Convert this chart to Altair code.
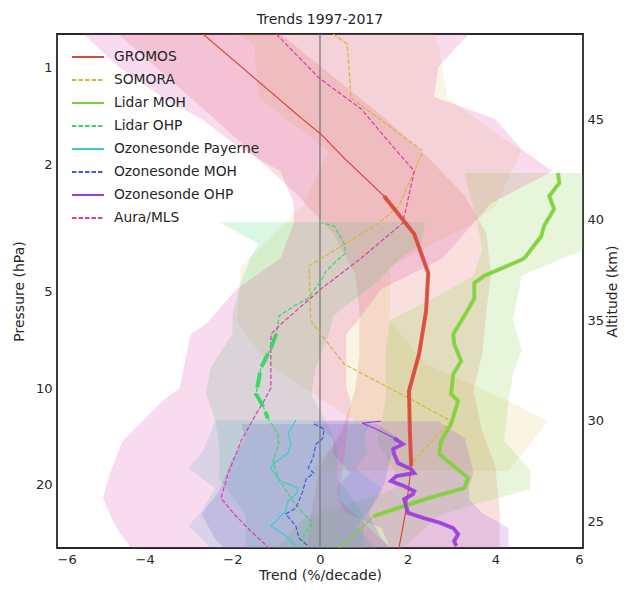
import altair as alt
import pandas as pd

# ---------------- data ----------------
SERIES = ["GROMOS", "SOMORA", "Lidar MOH", "Lidar OHP", "Ozonesonde Payerne",
          "Ozonesonde MOH", "Ozonesonde OHP", "Aura/MLS"]
COLORS = ["#d9483b", "#d9b43c", "#7fd13b", "#3dd66b", "#3ccbd2",
          "#3f5fdb", "#9a3fdf", "#d93fa9"]
DASHED = [False, True, False, True, False, True, False, True]

X_TICKS = [-6, -4, -2, 0, 2, 4, 6]
ALT_TICKS = [25, 30, 35, 40, 45]
PRESSURE_TICKS = [1, 2, 5, 10, 20]

# trend profiles: altitude (km) and trend (%/decade)
gromos_z = [49.23, 45.05, 44.25, 43.06, 41.17, 39.28, 37.34, 35.45, 33.31, 31.47, 29.48, 27.74, 25.50, 23.66]
gromos_t = [-2.67, -0.43, 0.02, 0.55, 1.46, 2.15, 2.47, 2.42, 2.26, 2.03, 2.05, 2.08, 1.96, 1.80]

somora_z = [49.23, 48.73, 46.04, 43.41, 40.67, 39.83, 37.69, 34.95, 32.81, 30.97, 29.97, 27.49]
somora_t = [0.30, 0.62, 0.71, 2.35, 1.80, 1.35, -0.25, -0.21, 0.55, 2.15, 2.99, 1.92]

lidar_moh_z = [42.31, 41.82, 41.17, 40.52, 39.68, 39.18, 38.18, 38.03, 37.19, 36.84, 36.09, 35.60, 34.30, 33.81,
               32.96, 32.31, 31.32, 30.97, 29.83, 28.98, 28.33, 27.14, 26.64, 26.14, 25.75, 25.25, 24.85, 23.66]
lidar_moh_t = [5.43, 5.46, 5.23, 5.34, 5.11, 5.05, 4.70, 4.63, 3.74, 3.52, 3.52, 3.40, 3.04, 3.06,
               3.22, 3.04, 2.99, 3.15, 2.99, 2.76, 2.72, 3.38, 3.29, 2.47, 1.92, 1.23, 1.05, 0.43]

lidar_ohp_z = [39.87, 39.68, 38.83, 38.33, 37.93, 37.44, 36.94, 36.09, 35.70, 35.20, 34.70, 34.30, 33.61, 32.61,
               32.11, 31.32, 30.72, 30.12, 29.33, 28.83, 27.98, 27.14, 26.14, 25.35, 24.90, 24.35, 23.76]
lidar_ohp_t = [-0.02, 0.32, 0.55, 0.59, 0.37, 0.14, 0.02, -0.27, -0.59, -0.94, -0.96, -1.00, -1.12, -1.35,
               -1.39, -1.46, -1.30, -1.19, -0.96, -0.94, -1.07, -0.96, -0.66, -0.37, -0.16, -0.37, -0.37]

payerne_z = [30.02, 29.33, 28.83, 28.38, 27.83, 27.64, 27.24, 26.99, 26.64, 26.34, 25.99, 25.50, 25.15, 24.75, 24.35, 23.76]
payerne_t = [-0.55, -0.73, -0.66, -0.73, -1.07, -1.12, -1.00, -0.89, -0.50, -0.55, -0.73, -0.78, -0.94, -1.12, -0.82, -0.55]

sonde_moh_z = [29.83, 29.58, 29.13, 28.83, 28.13, 27.64, 27.39, 27.09, 26.49, 25.65, 25.35, 24.75, 24.15, 23.76]
sonde_moh_t = [-0.14, 0.09, 0.07, -0.09, -0.16, -0.27, -0.14, -0.32, -0.39, -0.55, -0.78, -0.55, -0.48, -0.27]

sonde_ohp_z = [29.97, 29.87, 29.63, 29.33, 29.13, 28.83, 28.58, 28.33, 27.88, 27.59, 27.39, 27.24, 26.99,
               26.74, 26.49, 26.34, 26.09, 25.75, 25.40, 25.15, 24.90, 24.65, 24.35, 24.00, 23.76]
sonde_ohp_t = [1.39, 0.96, 1.23, 1.51, 1.69, 1.89, 1.67, 1.69, 1.78, 2.08, 2.15, 1.74, 1.62,
               1.92, 2.15, 2.12, 1.92, 1.96, 2.01, 2.37, 2.76, 3.04, 3.15, 3.06, 3.11]

mls_z = [49.23, 47.04, 45.50, 43.56, 42.41, 39.83, 38.08, 36.54, 34.80, 34.30, 31.62, 30.97, 30.32,
         28.98, 27.34, 26.14, 25.35, 24.50, 23.66]
mls_t = [-1.00, -0.02, 0.94, 1.69, 2.15, 1.89, 0.94, 0.02, -0.89, -1.12, -1.12, -1.28, -1.46,
         -1.80, -2.10, -2.26, -1.96, -1.58, -1.16]

# altitude ranges (km) where the trend is significant (thick line)
gromos_sig = [27.74, 41.17]
lidar_moh_sig = [25.25, 42.31]
lidar_ohp_sig = [30.12, 34.30]
sonde_ohp_sig = [23.76, 29.13]

# uncertainty bands: altitude, lower, upper
gromos_band_z = [49.23, 45.0, 43.0, 41.2, 39.3, 37.3, 35.5, 33.3, 31.5, 29.5, 27.7, 25.5, 23.66]
gromos_band_lo = [-4.6, -2.4, -1.4, -0.5, 0.3, 0.8, 0.9, 0.9, 0.8, 0.5, 0.0, -0.2, -0.3]
gromos_band_hi = [-0.9, 1.5, 2.5, 3.3, 3.8, 3.9, 3.8, 3.7, 3.5, 3.7, 4.0, 4.1, 4.1]

somora_band_z = [49.23, 48.73, 46.04, 43.41, 40.67, 39.83, 37.69, 34.95, 32.81, 30.97, 29.97, 27.49]
somora_band_lo = [-1.9, -1.5, -1.4, 0.2, -0.4, -0.8, -1.8, -1.9, -1.2, 0.1, 0.8, -0.2]
somora_band_hi = [2.6, 2.7, 2.9, 4.6, 4.0, 3.5, 1.6, 1.6, 2.4, 4.3, 5.2, 4.3]

lidar_moh_band_z = [42.31, 39.68, 38.5, 37.2, 36.1, 35.0, 33.5, 32.3, 31.0, 29.0, 27.5, 26.6, 25.75, 25.25, 23.66]
lidar_moh_band_lo = [3.3, 3.6, 3.7, 3.5, 2.6, 1.6, 1.5, 1.5, 1.5, 1.3, 1.7, 1.7, 0.5, -0.3, -1.0]
lidar_moh_band_hi = [7.0, 7.0, 6.0, 4.6, 4.5, 4.4, 4.6, 4.4, 4.3, 4.2, 4.8, 4.8, 3.4, 2.7, 1.9]

lidar_ohp_band_z = [39.87, 38.8, 38.0, 36.9, 35.2, 34.3, 32.6, 31.3, 30.1, 28.8, 27.1, 25.35, 23.66]
lidar_ohp_band_lo = [-2.3, -1.4, -1.6, -1.8, -2.0, -2.0, -2.5, -2.6, -2.4, -2.3, -2.3, -1.7, -1.7]
lidar_ohp_band_hi = [2.4, 2.3, 1.8, 1.3, 0.3, 0.2, -0.1, -0.2, 0.1, 0.4, 0.4, 1.0, 1.0]

payerne_band_z = [30.02, 29.33, 28.38, 27.64, 26.64, 25.5, 24.75, 23.66]
payerne_band_lo = [-2.4, -2.5, -2.7, -3.0, -2.4, -2.7, -3.0, -2.5]
payerne_band_hi = [1.2, 1.0, 1.1, 0.8, 1.4, 1.1, 0.8, 1.3]

sonde_moh_band_z = [29.83, 29.13, 28.13, 27.09, 26.49, 25.35, 24.15, 23.66]
sonde_moh_band_lo = [-1.8, -1.7, -2.0, -2.2, -2.3, -2.7, -2.4, -2.2]
sonde_moh_band_hi = [1.3, 1.8, 1.6, 1.5, 1.4, 1.1, 1.4, 1.6]

sonde_ohp_band_z = [29.97, 29.13, 28.33, 27.39, 26.74, 26.09, 25.4, 24.65, 23.66]
sonde_ohp_band_lo = [-0.2, 0.3, 0.3, 0.7, 0.4, 0.4, 0.6, 1.4, 1.6]
sonde_ohp_band_hi = [2.7, 3.3, 3.4, 3.5, 3.4, 3.4, 3.7, 4.3, 4.3]

mls_band_z = [49.23, 47.6, 46.1, 45.0, 43.5, 42.4, 40.8, 39.83, 38.08, 36.54, 34.8, 34.3, 31.62, 30.97,
              28.98, 27.34, 26.14, 25.35, 24.5, 23.66]
mls_band_lo = [-5.4, -4.6, -3.6, -2.7, -1.8, -0.9, -0.6, -0.6, -0.9, -1.9, -2.6, -2.95, -3.2, -3.6,
               -4.5, -4.8, -4.95, -4.8, -4.6, -4.3]
mls_band_hi = [3.4, 2.7, 2.6, 4.0, 4.6, 5.3, 3.9, 3.5, 2.8, 1.4, 0.8, 0.6, 0.6, 0.7,
               0.6, 0.5, 0.4, 0.8, 1.2, 1.6]

# ---------------- build tables ----------------
profiles = {
    "GROMOS": (gromos_z, gromos_t),
    "SOMORA": (somora_z, somora_t),
    "Lidar MOH": (lidar_moh_z, lidar_moh_t),
    "Lidar OHP": (lidar_ohp_z, lidar_ohp_t),
    "Ozonesonde Payerne": (payerne_z, payerne_t),
    "Ozonesonde MOH": (sonde_moh_z, sonde_moh_t),
    "Ozonesonde OHP": (sonde_ohp_z, sonde_ohp_t),
    "Aura/MLS": (mls_z, mls_t),
}
bands = {
    "GROMOS": (gromos_band_z, gromos_band_lo, gromos_band_hi),
    "SOMORA": (somora_band_z, somora_band_lo, somora_band_hi),
    "Lidar MOH": (lidar_moh_band_z, lidar_moh_band_lo, lidar_moh_band_hi),
    "Lidar OHP": (lidar_ohp_band_z, lidar_ohp_band_lo, lidar_ohp_band_hi),
    "Ozonesonde Payerne": (payerne_band_z, payerne_band_lo, payerne_band_hi),
    "Ozonesonde MOH": (sonde_moh_band_z, sonde_moh_band_lo, sonde_moh_band_hi),
    "Ozonesonde OHP": (sonde_ohp_band_z, sonde_ohp_band_lo, sonde_ohp_band_hi),
    "Aura/MLS": (mls_band_z, mls_band_lo, mls_band_hi),
}
sig = {"GROMOS": gromos_sig, "Lidar MOH": lidar_moh_sig, "Ozonesonde OHP": sonde_ohp_sig}
sig_dashed = {"Lidar OHP": lidar_ohp_sig}

rows = []
for s, (zs, ts) in profiles.items():
    for i, (z, t) in enumerate(zip(zs, ts)):
        rows.append({"series": s, "z": z, "t": t, "i": i})
lines_df = pd.DataFrame(rows)


def thick_rows(table):
    out = []
    for s, (z0, z1) in table.items():
        zs, ts = profiles[s]
        for i, (z, t) in enumerate(zip(zs, ts)):
            if z0 - 1e-6 <= z <= z1 + 1e-6:
                out.append({"series": s, "z": z, "t": t, "i": i})
    return pd.DataFrame(out)


thick_df = thick_rows(sig)
thick_dash_df = thick_rows(sig_dashed)

brows = []
for s in SERIES:
    zs, lo, hi = bands[s]
    for z, a, b in zip(zs, lo, hi):
        brows.append({"series": s, "z": z, "lo": a, "hi": b})
bands_df = pd.DataFrame(brows)

FONT = "DejaVu Sans"
TXT = "#262626"
XSCALE = alt.Scale(domain=[-6, 6], nice=False, zero=False)
XAXIS = alt.Axis(values=X_TICKS, title="Trend (%/decade)", titlePadding=2)

X = alt.X("t:Q", scale=XSCALE, axis=XAXIS)
Y = alt.Y("z:Q", scale=alt.Scale(domain=[23.66, 49.23], nice=False, zero=False),
          axis=alt.Axis(orient="right", values=ALT_TICKS, title="Altitude (km)",
                        titleAngle=270, titleBaseline="top", titlePadding=1.5, labelPadding=4))

band_opacity = {"SOMORA": 0.14, "GROMOS": 0.17}
areas = []
for s, c in zip(SERIES, COLORS):
    areas.append(
        alt.Chart(bands_df).transform_filter(alt.datum.series == s)
        .mark_area(orient="horizontal", color=c, opacity=band_opacity.get(s, 0.19), clip=True)
        .encode(x=alt.X("lo:Q", scale=XSCALE, axis=XAXIS, stack=None),
                x2="hi:Q", y=Y)
    )

zero = alt.Chart(pd.DataFrame({"t": [0]})).mark_rule(color="#7a7a7a", strokeWidth=1.3).encode(x=X)

legend = alt.Legend(title=None, orient="none", legendX=22, legendY=14,
                    symbolType="M-2,0H2", symbolSize=256, symbolStrokeWidth=1.8,
                    labelFontSize=13.8, labelFont=FONT, labelColor=TXT,
                    rowPadding=7, labelOffset=17, padding=0)

DASHES = [[4.5, 2] if d else [1, 0] for d in DASHED]

lines = alt.Chart(lines_df).mark_line(strokeWidth=1.2, clip=True).encode(
    x=X, y=Y,
    color=alt.Color("series:N", scale=alt.Scale(domain=SERIES, range=COLORS), legend=legend),
    strokeDash=alt.StrokeDash("series:N", scale=alt.Scale(domain=SERIES, range=DASHES), legend=legend),
    order="i:Q",
)

thick = alt.Chart(thick_df).mark_line(strokeWidth=4, clip=True, opacity=0.88).encode(
    x=X, y=Y,
    stroke=alt.Stroke("series:N", scale=alt.Scale(domain=SERIES, range=COLORS), legend=None),
    detail="series:N",
    order="i:Q",
)

thick_dash = alt.Chart(thick_dash_df).mark_line(
    strokeWidth=4, clip=True, color=COLORS[3], strokeDash=[15, 6]).encode(
    x=X, y=Y, order="i:Q")

pres = alt.Chart(pd.DataFrame({"p": PRESSURE_TICKS})).mark_point(opacity=0).encode(
    y=alt.Y("p:Q",
            scale=alt.Scale(type="log", domain=[0.783, 31.62], reverse=True, nice=False),
            axis=alt.Axis(orient="left", values=PRESSURE_TICKS, format="d",
                          title="Pressure (hPa)", titlePadding=9))
)

data_layers = alt.layer(*areas, zero, lines, thick, thick_dash)

chart = (
    alt.layer(pres, data_layers)
    .resolve_scale(y="independent")
    .properties(width=526, height=514,
                title=alt.Title("Trends 1997-2017"),
                padding={"left": 4, "top": 5, "right": 0, "bottom": 0})
    .configure_view(stroke=TXT, strokeWidth=1.8)
    .configure_axis(domain=False, ticks=False, grid=False, labelFont=FONT, titleFont=FONT,
                    labelFontSize=13, titleFontSize=14, labelColor=TXT, titleColor=TXT,
                    titleFontWeight="normal", labelPadding=5)
    .configure_title(font=FONT, fontSize=14, fontWeight="normal", color=TXT, offset=6)
)

chart.save("out.html", embed_options={"renderer": "svg", "actions": False})
